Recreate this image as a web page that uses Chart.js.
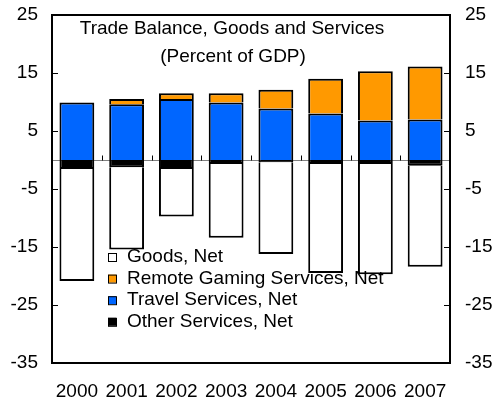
<!DOCTYPE html>
<html>
<head>
<meta charset="utf-8">
<script src="https://cdn.jsdelivr.net/npm/chart.js@4"></script>
<style>
  body { margin: 0; background: #fff; }
</style>
</head>
<body>
<canvas id="myChart" width="495" height="403"></canvas>
<script>
const years = ['2000', '2001', '2002', '2003', '2004', '2005', '2006', '2007'];
const goodsNet = [-19.3, -14.2, -8.2, -12.7, -15.8, -18.8, -19.0, -17.4];
const remoteGaming = [null, 0.9, 1.0, 1.6, 3.2, 6.0, 8.5, 9.1];
const travelNet = [9.9, 9.6, 10.5, 9.9, 8.9, 8.0, 6.8, 7.0];
const otherNet = [-1.55, -1.25, -1.55, -0.7, -0.4, -0.7, -0.7, -1.0];
const yTicks = [25, 15, 5, -5, -15, -25, -35];
const titleLines = ['Trade Balance, Goods and Services', '(Percent of GDP)'];

const font = 'Liberation Sans, Arial, sans-serif';

// draws frame, zero line, inner tick marks, title and legend
const frame = {
  id: 'frame',
  beforeDatasetsDraw(chart) {
    const { ctx, chartArea: a, scales } = chart;
    const y0 = Math.round(scales.y.getPixelForValue(0)) + 0.5;
    ctx.save();
    ctx.strokeStyle = '#808080';
    ctx.lineWidth = 1;
    ctx.beginPath();
    ctx.moveTo(a.left, y0);
    ctx.lineTo(a.right, y0);
    ctx.stroke();
    ctx.strokeStyle = '#000';
    ctx.beginPath();
    for (let i = 1; i < years.length; i++) {
      const x = Math.round((scales.x.getPixelForValue(i - 1) + scales.x.getPixelForValue(i)) / 2) + 0.5;
      ctx.moveTo(x, y0);
      ctx.lineTo(x, y0 - 5);
    }
    ctx.stroke();
    ctx.restore();
  },
  afterDraw(chart) {
    const { ctx, chartArea: a, scales } = chart;
    ctx.save();
    ctx.strokeStyle = '#000';
    ctx.lineWidth = 2;
    ctx.strokeRect(a.left, a.top, a.right - a.left, a.bottom - a.top);
    ctx.lineWidth = 1;
    ctx.beginPath();
    yTicks.forEach(v => {
      const y = Math.round(scales.y.getPixelForValue(v)) + 0.5;
      ctx.moveTo(a.left, y); ctx.lineTo(a.left + 6, y);
      ctx.moveTo(a.right - 6, y); ctx.lineTo(a.right, y);
    });
    ctx.stroke();

    ctx.fillStyle = '#000';
    ctx.font = '19px ' + font;
    ctx.textAlign = 'center';
    ctx.textBaseline = 'middle';
    ctx.fillText(titleLines[0], 232, 29);
    ctx.fillText(titleLines[1], 233, 57);

    // legend, same order as the original
    const order = [3, 2, 1, 0];
    ctx.textAlign = 'left';
    order.forEach((di, i) => {
      const ds = chart.data.datasets[di];
      const cy = 257 + i * 21.6;
      ctx.fillStyle = ds.backgroundColor;
      ctx.fillRect(108, cy - 4, 8, 8);
      ctx.lineWidth = 1;
      ctx.strokeStyle = '#000';
      ctx.strokeRect(108.5, cy - 3.5, 8, 8);
      ctx.fillStyle = '#000';
      ctx.fillText(ds.label, 127, cy);
    });
    ctx.restore();
  }
};

const yAxis = (pos, w, pad) => ({
  type: 'linear',
  position: pos,
  stacked: true,
  min: -35,
  max: 25,
  afterBuildTicks: s => { s.ticks = yTicks.map(v => ({ value: v })); },
  afterFit: s => { s.width = w; s.paddingTop = 0; s.paddingBottom = 0; },
  grid: { drawOnChartArea: false, drawTicks: false },
  border: { display: false },
  ticks: { color: '#000', padding: pad, font: { family: font, size: 19 } }
});

new Chart(document.getElementById('myChart'), {
  type: 'bar',
  data: {
    labels: years,
    datasets: [
      { label: 'Other Services, Net', data: otherNet, backgroundColor: '#000000' },
      { label: 'Travel Services, Net', data: travelNet, backgroundColor: '#0066FF' },
      { label: 'Remote Gaming Services, Net', data: remoteGaming, backgroundColor: '#FF9900' },
      { label: 'Goods, Net', data: goodsNet, backgroundColor: '#FFFFFF' }
    ]
  },
  options: {
    responsive: false,
    animation: false,
    devicePixelRatio: 1,
    layout: { padding: { top: 15, left: 0, right: 0, bottom: 0 } },
    datasets: {
      bar: {
        borderColor: '#000',
        borderWidth: 2,
        borderSkipped: 'start',
        categoryPercentage: 0.7,
        barPercentage: 1
      }
    },
    scales: {
      x: {
        stacked: true,
        afterFit: s => { s.height = 40; s.paddingLeft = 0; s.paddingRight = 0; },
        grid: { display: false, drawTicks: false },
        border: { display: false },
        ticks: { color: '#000', padding: 17, maxRotation: 0, font: { family: font, size: 19 } }
      },
      y: yAxis('left', 52, 14),
      y2: Object.assign(yAxis('right', 45, 15), { stacked: false })
    },
    plugins: {
      legend: { display: false },
      tooltip: { enabled: false }
    }
  },
  plugins: [frame]
});
</script>
</body>
</html>
